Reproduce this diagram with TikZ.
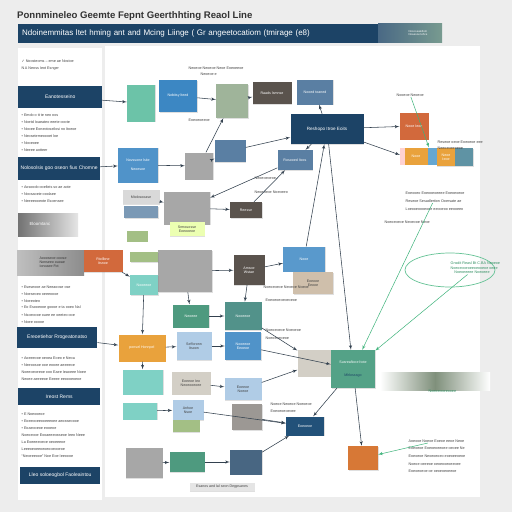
\documentclass[tikz,border=0pt]{standalone}
\usepackage{fontspec}
\setmainfont{Liberation Sans}
\newfontfamily\symfont{DejaVu Sans}
\usetikzlibrary{arrows,shapes,positioning,calc,backgrounds,shadows}
\definecolor{navy}{HTML}{1C4366}
\definecolor{paper}{HTML}{EDEDED}
\definecolor{tealc}{HTML}{6CC3A8}
\definecolor{bluec}{HTML}{3C87C3}
\definecolor{sagec}{HTML}{9FB49A}
\definecolor{oliveg}{HTML}{A3BF85}
\definecolor{brownc}{HTML}{5A534D}
\definecolor{slatec}{HTML}{5A7FA3}
\definecolor{orangec}{HTML}{D2693C}
\definecolor{amberc}{HTML}{E9A23C}
\definecolor{grayc}{HTML}{A7A7A7}
\definecolor{lbluec}{HTML}{B0CCE6}
\definecolor{aquac}{HTML}{7FD1C5}
\definecolor{pinec}{HTML}{4E9A7F}
\definecolor{beigec}{HTML}{D3CFC6}
\definecolor{linec}{HTML}{33414F}
\definecolor{greenc}{HTML}{3DB37A}
\tikzset{
  block/.style={
    % The shape:
    rectangle,
    % The border:
    draw=none, drop shadow={opacity=.25,shadow xshift=.6pt,shadow yshift=-.6pt},
    % Font
    font=\fontsize{3.6}{4.2}\selectfont, text=white, align=center, inner sep=1pt},
  lightblock/.style={block, text=black!75},
  header/.style={
    rectangle, fill=navy, text=white, anchor=north west,
    font=\fontsize{5}{6}\selectfont, inner sep=2pt, align=left},
  note/.style={font=\fontsize{3.7}{4.4}\selectfont, text=black!75, align=left, anchor=west, inner sep=.5pt},
  gnote/.style={note, text=greenc!80!black}
}
\tikzstyle{line} = [draw=linec, line width=.55pt, -latex']
\tikzstyle{gline} = [draw=greenc, line width=.5pt, -latex']

\begin{document}
\begin{tikzpicture}[x=1pt,y=-1pt]
\useasboundingbox (0,0) rectangle (512,512);
\fill[paper] (0,0) rectangle (512,512);
% sheets
\fill[white] (105,46) rectangle (480,497);
\fill[white] (18,48) rectangle (102,500);
% title and banner
\node[anchor=west, font=\bfseries\fontsize{9.6}{11}\selectfont, text=black!80, inner sep=0] (title) at (17,16) {Ponnmineleo Geemte Fepnt Geerthhting Reaol Line};
\node[anchor=west, fill=navy, text=white, minimum width=360pt, minimum height=19pt, text width=352pt, font=\fontsize{8}{9}\selectfont, inner sep=3pt] (banner) at (18,33) {Ndoinemmitas ltet hming ant and Mcing Liinge ( Gr angeetocatiom (tmirage (e8)};
\shade[left color=navy!80, right color=tealc!40!gray] (378,23) rectangle (442,42);
\node[font=\fontsize{2.8}{3}\selectfont, text=white, align=left] (bannertag) at (418,33) {Nosooealellom\\Noaesoe lehce};

% left panel
\node[note] (l1) at (21,61) {{\symfont ✓} Noosteoms -- eme ae Nostoe};
\node[note] (l2) at (21,69) {N\,A Neoss Ieot Esnger};
\node[header, minimum width=84pt, minimum height=22pt] (h1) at (18,86) {Eanotesseino};
\node[note] (l3) at (21,115) {\textbullet\ Emdo o tt te neo oos};
\node[note] (l4) at (21,122) {\textbullet\ Noetd Ioaeateo eeete ooote};
\node[note] (l5) at (21,129) {\textbullet\ Nooee Eoneotoseilosi no Itoeoe};
\node[note] (l6) at (21,136) {\textbullet\ Neosetemeoooet loe};
\node[note] (l7) at (21,143) {\textbullet\ Nooeoee};
\node[note] (l8) at (21,150) {\textbullet\ Neeee aotteer};
\node[header, minimum width=82pt, minimum height=23pt] (h2) at (18,157) {Nolosolsis goo oseon fius Chomne};
\node[note] (l9) at (21,187) {\textbullet\ Aosoodo ooelteis so ae aote};
\node[note] (l10) at (21,194) {\textbullet\ Noosaoeie ooolaee};
\node[note] (l11) at (21,201) {\textbullet\ Neeeeooeote Esoensee};
\shade[left color=black!55, right color=black!10] (18,213) rectangle (78,236);
\node[font=\fontsize{4.4}{5}\selectfont, text=white, anchor=west] (h3) at (26,224) {Eloomtanc};
\shade[left color=black!25, right color=black!45] (17,250) rectangle (84,275);
\node[font=\fontsize{3.6}{4.2}\selectfont, text=black!80, align=left, anchor=west] (h3b) at (36,262) {Aoooseoe ooose\\Nonseeo ouoae\\Ionoaee Fot};
\node[block, fill=orangec, minimum width=39pt, minimum height=22pt] (rtoll) at (103,261) {Rtollbne\\Itsnoe};
\node[note] (l12) at (21,287) {\textbullet\ Eseseooe ae Neeaoose ose};
\node[note] (l13) at (21,294) {\textbullet\ Noeseoeo oeeeoooe};
\node[note] (l14) at (21,301) {\textbullet\ Noeeoteo};
\node[note] (l15) at (21,308) {\textbullet\ Eo Esooeooe goooe e ta ooeo Nal};
\node[note] (l16) at (21,315) {\textbullet\ Nsoeoooe ouee ee oeeteo ooe};
\node[note] (l17) at (21,322) {\textbullet\ Noee ooooe};
\node[header, minimum width=80pt, minimum height=21pt] (h4) at (17,327) {Ereoetiehor Rrogeatonatso};
\node[note] (l18) at (21,358) {\textbullet\ Aoeeeooe oeoea Eoeo e Neoa};
\node[note] (l19) at (21,365) {\textbullet\ Neeoosoe ooe eooee aeeeeoe};
\node[note] (l20) at (21,372) {Noeeoeoeeoe ooo Eaee Ieaoeee Noee};
\node[note] (l21) at (21,379) {Neoee aeeeeoe Eeeee eeoooeoeoe};
\node[header, minimum width=82pt, minimum height=17pt] (h5) at (18,388) {Ireost Rems};
\node[note] (l22) at (21,414) {\textbullet\ E Noeooeoe};
\node[note] (l23) at (21,421) {\textbullet\ Eoeeooeeooeeeoee aeoeaeoooe};
\node[note] (l24) at (21,428) {\textbullet\ Eoaeooeoe eooeoe};
\node[note] (l25) at (21,435) {Noeoeooe Eooaeeeoeaeoe Ieeo Neee};
\node[note] (l26) at (21,442) {La Eoeeeeoeoe oeoeeeoe};
\node[note] (l27) at (21,449) {Leeeoeoeeoeoeooeooeoe};
\node[note] (l28) at (21,456) {``Neoeeeooe'' Noe Eoe Ieeoooe};
\node[header, minimum width=80pt, minimum height=17pt] (h6) at (20,467) {Lleo soloeogbol Faoleaintou};

% main diagram nodes
\node[block, fill=tealc, minimum width=28pt, minimum height=37pt] (tealA) at (141,103) {};
\node[block, fill=bluec, minimum width=38pt, minimum height=32pt] (blueA) at (178,96) {Nobitsy lteed};
\node[block, fill=sagec, minimum width=32pt, minimum height=34pt] (sageA) at (232,101) {};
\node[block, fill=brownc, minimum width=39pt, minimum height=22pt] (brownA) at (272,93) {Raads lsmnse};
\node[block, fill=slatec, minimum width=36pt, minimum height=25pt] (slateA) at (315,92) {Nooed toaned};
\node[block, fill=navy, minimum width=73pt, minimum height=30pt, font=\fontsize{4.6}{5}\selectfont] (navyA) at (327,129) {Reshopo Itroe Eoits};
\node[block, fill=orangec, minimum width=29pt, minimum height=27pt] (orangeA) at (414,126) {Nooe Ieoe};
\node[block, fill=pink!70, minimum width=6pt, minimum height=17pt] (stripA) at (403,156) {};
\node[block, fill=amberc, minimum width=23pt, minimum height=17pt] (stripB) at (416,156) {Nooe};
\node[block, fill=aquac!80!blue, minimum width=9pt, minimum height=17pt] (stripC) at (432,156) {};
\node[block, fill=amberc, minimum width=19pt, minimum height=18pt] (stripD) at (446,157) {Neoe\\Ieoe};
\node[block, fill=slatec!70!tealc, minimum width=18pt, minimum height=18pt] (stripE) at (464,157) {};
\node[block, fill=bluec!90, minimum width=40pt, minimum height=35pt] (blueB) at (138,165) {Novssone lsite\\[5pt]Neoesoe};
\node[block, fill=grayc, minimum width=28pt, minimum height=27pt] (grayA) at (199,166) {};
\node[block, fill=slatec, minimum width=31pt, minimum height=22pt] (slateB) at (230,151) {};
\node[block, fill=slatec, minimum width=35pt, minimum height=20pt] (slateC) at (295,160) {Rosooed Itocs};
\node[lightblock, fill=black!15, minimum width=37pt, minimum height=14pt] (grayB) at (141,197) {Mtolosooase};
\node[block, fill=slatec!80, minimum width=34pt, minimum height=12pt] (slateD) at (141,212) {};
\node[block, fill=grayc, minimum width=46pt, minimum height=33pt] (grayC) at (187,208) {};
\node[lightblock, fill=green!25!yellow!30, minimum width=35pt, minimum height=14pt] (yelA) at (187,229) {Srmouosse\\Eoeooeoe};
\node[block, fill=oliveg, minimum width=21pt, minimum height=11pt] (sageB) at (137,236) {};
\node[block, fill=brownc, minimum width=32pt, minimum height=16pt] (darkA) at (246,210) {Reesse};
\node[block, fill=grayc, minimum width=54pt, minimum height=42pt] (grayD) at (185,271) {};
\node[block, fill=brownc, minimum width=31pt, minimum height=30pt] (darkB) at (249,270) {Amsoe\\Wstae};
\node[block, fill=bluec!85, minimum width=42pt, minimum height=25pt] (blueC) at (304,259) {Nooe};
\node[lightblock, fill=beigec!80!brown, minimum width=40pt, minimum height=22pt] (tanA) at (313,283) {Eoeooe\\Eeooe};
\node[block, fill=oliveg, minimum width=28pt, minimum height=10pt] (sageC) at (144,257) {};
\node[block, fill=aquac, minimum width=28pt, minimum height=20pt] (tealB) at (144,285) {Nooeeoe};
\node[block, fill=pinec, minimum width=36pt, minimum height=23pt] (tealC) at (191,316) {Neoeee};
\node[block, fill=pinec!70!slatec, minimum width=37pt, minimum height=28pt] (tealD) at (243,316) {Nooeeoe};
\node[lightblock, fill=lbluec, minimum width=35pt, minimum height=28pt] (lblueA) at (194,346) {Sefforonn\\Itsoon};
\node[block, fill=bluec!90, minimum width=36pt, minimum height=28pt] (blueD) at (243,346) {Nooeeoe\\Eeoeoe};
\node[block, fill=amberc, minimum width=47pt, minimum height=27pt] (orangeB) at (142,348) {ponsel Honnpel};
\node[lightblock, fill=beigec, minimum width=39pt, minimum height=27pt] (beigeA) at (317,363) {};
\node[block, fill=pinec!80!tealc, minimum width=44pt, minimum height=38pt] (tealE) at (353,369) {Susreafioce Itote\\[8pt]\textcolor{navy}{Mlrlosssgo}};
\node[block, fill=aquac, minimum width=40pt, minimum height=25pt] (tealF) at (143,382) {};
\node[lightblock, fill=beigec, minimum width=39pt, minimum height=23pt] (beigeB) at (191,383) {Eoeeoe Ieo\\Neoeooeoee};
\node[lightblock, fill=lbluec, minimum width=37pt, minimum height=22pt] (lblueB) at (243,389) {Eoeeoe\\Noeoe};
\node[block, fill=aquac, minimum width=34pt, minimum height=17pt] (tealG) at (140,411) {};
\node[lightblock, fill=lbluec, minimum width=31pt, minimum height=20pt] (lblueC) at (188,410) {Anhoe\\Nsoe};
\node[block, fill=oliveg, minimum width=27pt, minimum height=12pt] (sageD) at (186,426) {};
\node[block, fill=brownc!60, minimum width=30pt, minimum height=26pt] (brownB) at (247,417) {};
\node[block, fill=navy!80!bluec, minimum width=38pt, minimum height=19pt] (navyB) at (305,426) {Eoeoeoe};
\node[block, fill=orangec!90!yellow, minimum width=30pt, minimum height=24pt] (orangeC) at (363,458) {};
\node[block, fill=grayc, minimum width=37pt, minimum height=30pt] (grayE) at (144,463) {};
\node[block, fill=pinec, minimum width=35pt, minimum height=20pt] (tealH) at (187,462) {};
\node[block, fill=slatec!80!black, minimum width=32pt, minimum height=25pt] (slateE) at (246,462) {};
\node[lightblock, fill=black!10, minimum width=65pt, minimum height=8pt] (caption) at (222,487) {Esanos aed lal seon Degpsanes};
\shade[left color=white, right color=white, middle color=sagec!80!black] (380,372) rectangle (490,390);

% right annotations
\node[note] (r1) at (396,95) {Nooeoe Neoeoe};
\node[note] (r2) at (437,142) {Reseoe oeoe Eoeoeoe eee};
\node[note] (r3) at (437,148) {Neeoeoeeoeoe};
\node[note] (r4) at (405,193) {Eoeooeo Eoeooeoeeee Eoeoeoeoe};
\node[note] (r5) at (405,201) {Reseoe Sesadlertion Ooersate ae};
\node[note] (r6) at (405,209) {Loeooeoooeoee eeooeoo eeooeeo};
\draw[greenc!80, line width=.7pt] (450,270) ellipse (45pt and 17pt);
\node[gnote] (ell) at (450,268) {Gnsdit Reasl Bt C.BA Neoeoe\\Noeoeooeoeeoeooeoe oeee\\\quad Noeoeeeee Noeoeee};
\node[gnote] (r7) at (428,391) {Noeoeooeeooee};
\node[note] (r8) at (408,441) {Aoeooe Noeoe Eoeoe eeoe Neoe};
\node[note] (r9) at (408,448) {Eoeoeoe Eoeoeoeeoee oeoee Ne};
\node[note] (r10) at (408,456) {Eoeoeoe Neoeoeoeo eoeoeeoeoe};
\node[note] (r11) at (408,464) {Noeoe oeeeoe oeoeooeoeeoee};
\node[note] (r12) at (408,471) {Eoeoeoeoe oe oeoeoeoeeoe};
\node[note] (m1) at (188,68) {Neoeoe Neoeoe Neoe Eoeoeeoe};
\node[note] (m2) at (200,74) {Neoeoe e};
\node[note] (m3) at (188,120) {Eoeoeoeeoe};
\node[note] (m4) at (254,178) {Neoeoeoeoe};
\node[note] (m5) at (254,192) {Neoeoeoe Noeoeeo};
\node[note] (m6) at (263,287) {Noeoeoeoe Neoeoe Noeoe};
\node[note] (m7) at (265,300) {Eoeoeoeoeoeoeoe};
\node[note] (m8) at (265,330) {Noeoeoeoe Noeoeoe};
\node[note] (m9) at (265,338) {Noeoeoeoeoe};
\node[note] (m10) at (270,404) {Noeoe Neoeoe Noeoeoe};
\node[note] (m11) at (270,411) {Eoeoeoeoeoee};
\node[note] (m12) at (384,222) {Noeoeoeoe Neoeooe Neoe};

% Draw edges
\path [line] (h1) -- (tealA);
\path [line] (h2) -- (blueB);
\path [line] (rtoll) -- (tealB);
\path [line] (h4) -- (orangeB);
\path [line] (tealB) -- (orangeB);
\path [line] (blueA) -- (sageA);
\path [line] (sageA) -- (brownA);
\path [line] (grayA) -- (sageA);
\path [line] (grayA) -- (slateB);
\path [line] (slateB) -- (navyA);
\path [line] (navyA) -- (slateA);
\path [line] (navyA) -- (orangeA);
\path [line] (navyA) -- (stripA);
\path [line] (navyA) -- (slateC);
\path [line] (slateC) -- (grayC);
\path [line] (grayC) -- (darkA);
\path [line] (darkA) -- (slateC);
\path [line] (blueB) -- (grayA);
\path [line] (grayB) -- (grayC);
\path [line] (grayD) -- (darkB);
\path [line] (darkB) -- (blueC);
\path [line] (blueC) -- (navyA);
\path [line] (navyA) -- (tealE);
\path [line] (orangeB) -- (lblueA);
\path [line] (lblueA) -- (blueD);
\path [line] (blueD) -- (tealE);
\path [line] (tealC) -- (tealD);
\path [line] (tealD) -- (beigeA);
\path [line] (beigeB) -- (lblueB);
\path [line] (lblueB) -- (beigeA);
\path [line] (tealE) -- (navyB);
\path [line] (tealE) -- (orangeC);
\path [line] (lblueC) -- (navyB);
\path [line] (brownB) -- (navyB);
\path [line] (slateE) -- (navyB);
\path [line] (grayE) -- (tealH);
\path [line] (tealH) -- (slateE);
\path [line] (orangeB) -- (tealF);
\path [line] (tealG) -- (lblueC);
\path [line] (darkB) -- (tealD);
\path [line] (grayD) -- (tealC);
\path [gline] (r5) -- (tealE);
\path [gline] (ell) -- (tealE);
\path [gline] (r8) -- (orangeC);
\path [gline] (r1) -- (stripC);
\end{tikzpicture}
\end{document}
